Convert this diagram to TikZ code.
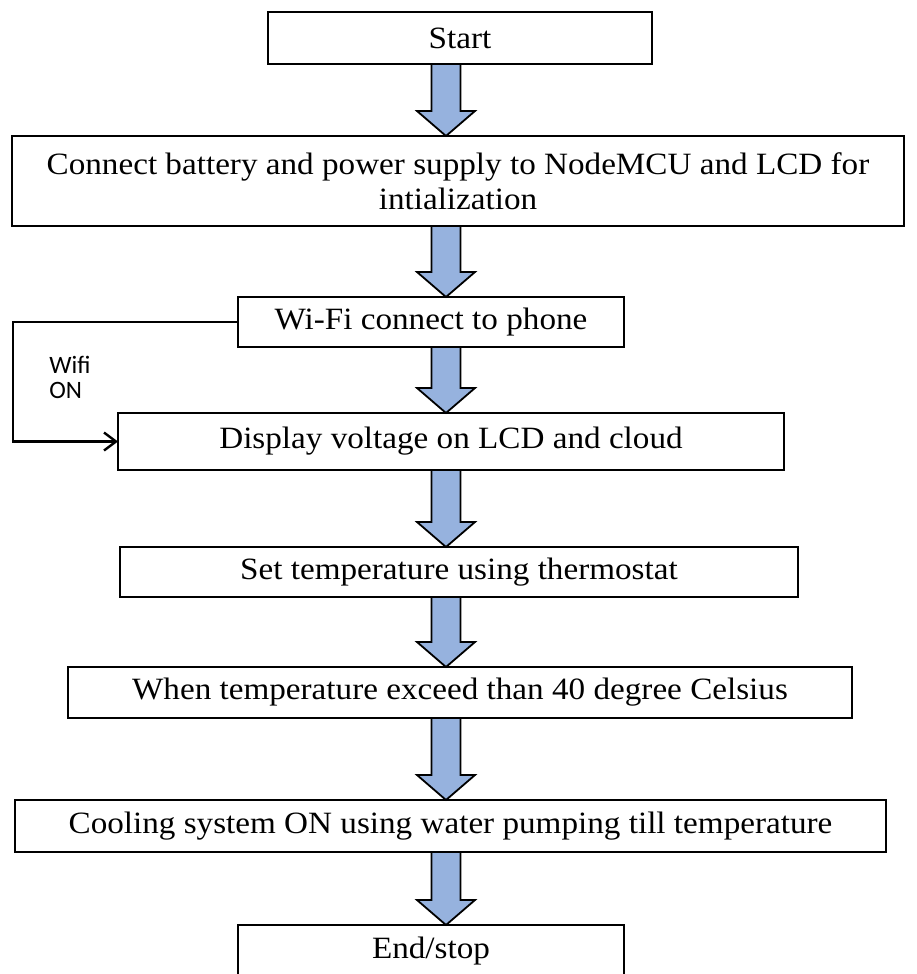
\documentclass[tikz,border=0pt]{standalone}
\usepackage{fontspec}
\setmainfont[FakeStretch=1.07]{Liberation Serif}
\newfontfamily\labelfont{Carlito}
\usetikzlibrary{arrows.meta, positioning, calc}

\definecolor{flowblue}{RGB}{150,178,222}

% block arrow from the bottom of one box to the top of the next
\newcommand{\flowarrow}[2]{%
	\filldraw[fill=flowblue, draw=black, line width=0.9pt, line join=miter]
	($(#1.south -| axis)+(-7.25,0)$) --
	($(#2.north -| axis)+(-7.25,12.5)$) --
	($(#2.north -| axis)+(-14.5,12.5)$) --
	(#2.north -| axis) --
	($(#2.north -| axis)+(14.5,12.5)$) --
	($(#2.north -| axis)+(7.25,12.5)$) --
	($(#1.south -| axis)+(7.25,0)$) -- cycle;
}

\begin{document}
\begin{tikzpicture}[
		x=1pt, y=1pt,
		>={Straight Barb[length=6pt, width=9pt]},
		box/.style={rectangle, draw, line width=1.2pt, align=center, inner sep=0pt, outer sep=0pt,
			font=\fontsize{15.5}{17.5}\selectfont},
		loopline/.style={->, line width=1.2pt},
		note/.style={align=left, inner sep=0pt, font=\labelfont\fontsize{12.5}{12.5}\selectfont}
		]
		
		% Page frame
		\clip (0,0) rectangle (458,-487);
		\coordinate (axis) at (223,0);
		
		% Start box
		\node[box, minimum width=192pt, minimum height=26pt, anchor=north] (start) at (230,-6) {Start};
		
		% Initialization box
		\node[box, minimum width=446pt, minimum height=45pt, below=36pt of start, xshift=-1pt] (connect) {
			Connect battery and power supply to NodeMCU and LCD for\\
			intialization
		};
		
		% Wi-Fi box
		\node[box, minimum width=193pt, minimum height=25pt, below=35.5pt of connect, xshift=-13.5pt] (wifi) {Wi-Fi connect to phone};
		
		% Display box
		\node[box, minimum width=333pt, minimum height=28.5pt, below=33pt of wifi, xshift=10pt] (display) {Display voltage on LCD and cloud};
		
		% Thermostat box
		\node[box, minimum width=339pt, minimum height=25pt, below=38.5pt of display, xshift=4pt] (settemp) {Set temperature using thermostat};
		
		% Threshold box
		\node[box, minimum width=392pt, minimum height=25.5pt, below=35pt of settemp, xshift=0.5pt] (exceed) {When temperature exceed than 40 degree Celsius};
		
		% Cooling box
		\node[box, minimum width=435.5pt, minimum height=26pt, below=41pt of exceed, xshift=-4.75pt] (cooling) {Cooling system ON using water pumping till temperature};
		
		% End box (cut by the page edge)
		\node[box, minimum width=193pt, minimum height=26pt, below=36.5pt of cooling, xshift=-9.75pt] (endstop) {\raisebox{2pt}{End/stop}};
		
		% Block arrows
		\flowarrow{start}{connect}
		\flowarrow{connect}{wifi}
		\flowarrow{wifi}{display}
		\flowarrow{display}{settemp}
		\flowarrow{settemp}{exceed}
		\flowarrow{exceed}{cooling}
		\flowarrow{cooling}{endstop}
		
		% Wifi loop on the left
		\draw[loopline] (wifi.west) -- ++(-112.5,0) |- (display.west);
		\node[note, anchor=north west] (wifilabel) at (24.5,-178) {Wifi\\ON};
		
	\end{tikzpicture}
\end{document}
